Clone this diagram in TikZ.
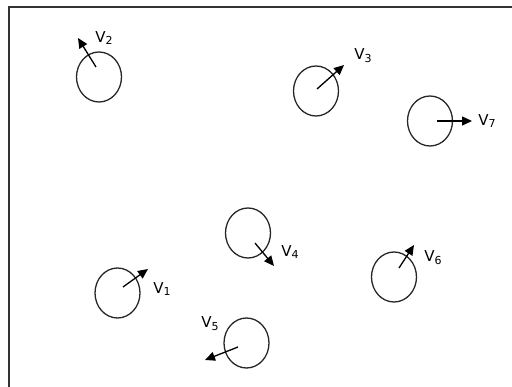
\documentclass[tikz,border=0pt]{standalone}
\usepackage{fontspec}
\setmainfont{DejaVu Sans}
\usepackage{tikz}
\usetikzlibrary{arrows.meta,shapes.geometric}
\definecolor{framegray}{HTML}{333333}
\newcommand{\vname}[1]{V\raisebox{-0.35ex}{\fontsize{11}{11}\selectfont #1}}

\begin{document}
\begin{tikzpicture}[x=1pt,y=-1pt,>={Triangle[length=10pt,width=9pt]},
  ball/.style={draw,ellipse,minimum width=45pt,minimum height=50pt,inner sep=0pt,line width=1.3pt,draw=black!85},
  vec/.style={->,line width=1.3pt},
  lab/.style={inner sep=0pt,font=\fontsize{15}{15}\selectfont}]
  \useasboundingbox (0,0) rectangle (512,387);
  \clip (0,0) rectangle (512,387);
  \draw[line width=1.8pt,framegray] (9,7) rectangle (530,400);
  % particles
  \node[ball] (b1) at (117.5,293) {};
  \node[ball] (b2) at (99,77) {};
  \node[ball] (b3) at (316,91) {};
  \node[ball] (b4) at (248,233) {};
  \node[ball] (b5) at (246.5,343) {};
  \node[ball] (b6) at (394,277) {};
  \node[ball] (b7) at (430,121) {};
  % velocity vectors
  \coordinate (t1) at (123,287);   \coordinate (h1) at (148,269);
  \coordinate (t2) at (96,67);     \coordinate (h2) at (78,38);
  \coordinate (t3) at (317,89);    \coordinate (h3) at (344,65);
  \coordinate (t4) at (255,243);   \coordinate (h4) at (274,266);
  \coordinate (t5) at (238,347);   \coordinate (h5) at (205,360);
  \coordinate (t6) at (399,268);   \coordinate (h6) at (414,245);
  \coordinate (t7) at (437,121);   \coordinate (h7) at (472,121);
  \foreach \i in {1,...,7}
    \draw[vec] (t\i) -- (h\i);
  % labels
  \node[lab] (v1) at (162,289) {\vname{1}};
  \node[lab] (v2) at (104,38) {\vname{2}};
  \node[lab] (v3) at (363,56) {\vname{3}};
  \node[lab] (v4) at (290,252) {\vname{4}};
  \node[lab] (v5) at (210,324) {\vname{5}};
  \node[lab] (v6) at (433,258) {\vname{6}};
  \node[lab] (v7) at (487,121) {\vname{7}};
\end{tikzpicture}
\end{document}
